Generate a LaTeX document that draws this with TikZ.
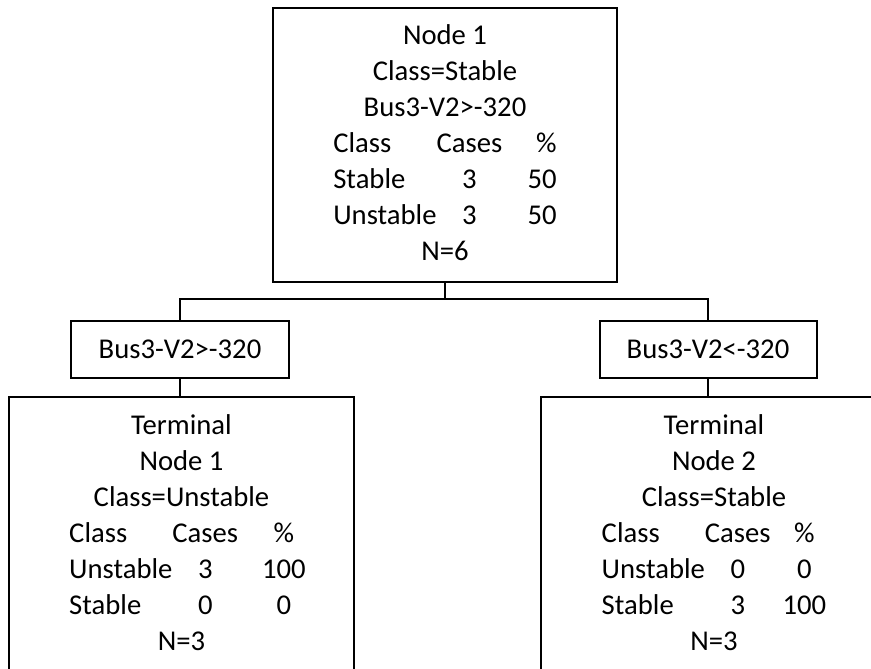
\documentclass[tikz,border=0pt]{standalone}
\usepackage{fontspec}
\setmainfont{Carlito}
\usepackage{tikz}

\tikzset{
  box/.style={draw, rectangle, line width=1.5pt, inner sep=0pt, font=\fontsize{21.5pt}{27pt}\selectfont},
  wire/.style={line width=1.5pt}
}
\newcommand{\ctr}[1]{\multicolumn{3}{c}{#1}}

\begin{document}
\begin{tikzpicture}[x=0.75pt, y=-0.75pt]
      \useasboundingbox (0,0) rectangle (871,668);
      \clip (0,0) rectangle (871,668);
      \node [box, minimum width=258pt, minimum height=205.5pt] (root) at (445,145) {%
        \begin{tabular}{@{}l@{}c@{\hspace{19pt}}r@{}}
          \ctr{Node 1}\\
          \ctr{Class=Stable}\\
          \ctr{Bus3-V2>-320}\\
          Class & Cases & \%\\
          Stable & 3 & 50\\
          Unstable & 3 & 50\\
          \ctr{N=6}
        \end{tabular}};
      \node [box, minimum width=163.5pt, minimum height=42.75pt] (lcond) at (180,349.5) {Bus3-V2>-320};
      \node [box, minimum width=162.75pt, minimum height=42.75pt] (rcond) at (708,349.5) {Bus3-V2<-320};
      \node [box, anchor=north, minimum width=258.75pt, minimum height=207pt] (lterm) at (181.5,396) {%
        \begin{tabular}{@{\hspace{9pt}}l@{}c@{\hspace{18pt}}c@{}}
          \ctr{Terminal}\\
          \ctr{Node 1}\\
          \ctr{Class=Unstable}\\
          Class & Cases & \%\\
          Unstable & 3 & 100\\
          Stable & 0 & 0\\
          \ctr{N=3}
        \end{tabular}};
      \node [box, anchor=north, minimum width=259.5pt, minimum height=207pt] (rterm) at (714,396) {%
        \begin{tabular}{@{}l@{}c@{\hspace{9pt}}c@{}}
          \ctr{Terminal}\\
          \ctr{Node 2}\\
          \ctr{Class=Stable}\\
          Class & Cases & \%\\
          Unstable & 0 & 0\\
          Stable & 3 & 100\\
          \ctr{N=3}
        \end{tabular}};
      \draw [wire] (root.south) -- ++(0,16) coordinate (split);
      \draw [wire]
        (lcond.north) |- (split) -| (rcond.north)
        (lcond.south) -- (lcond.south |- lterm.north)
        (rcond.south) -- (rcond.south |- rterm.north);
\end{tikzpicture}
\end{document}
